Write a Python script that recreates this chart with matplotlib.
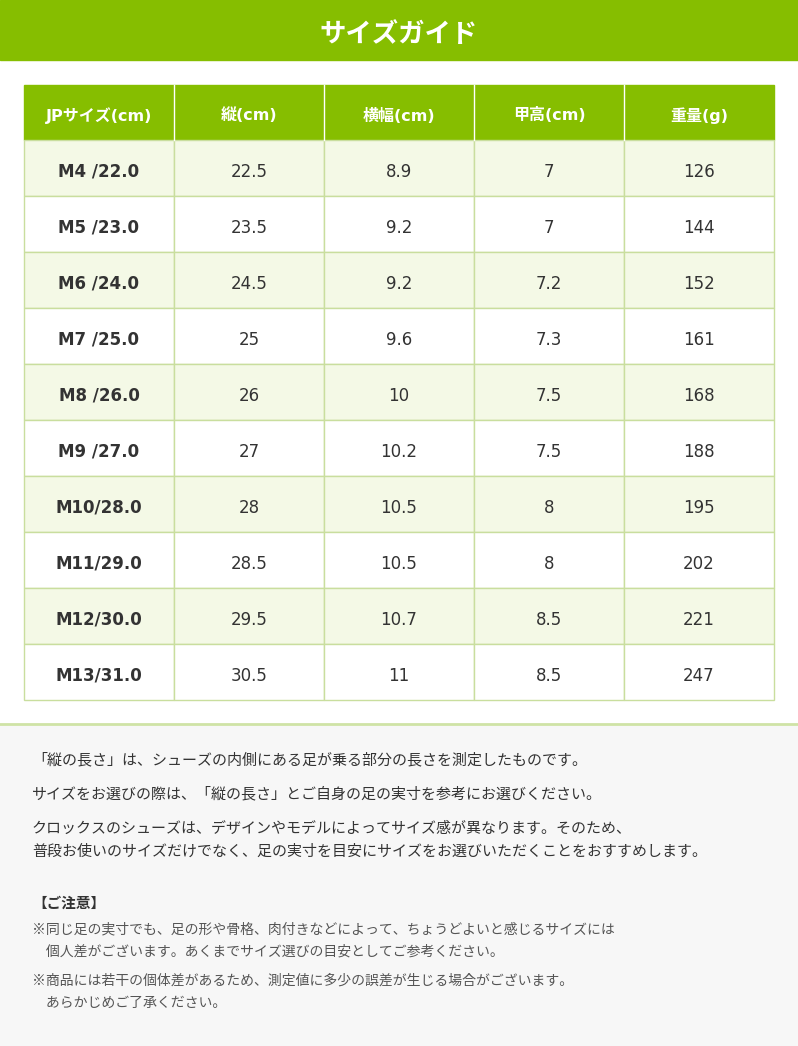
import matplotlib.pyplot as plt
from matplotlib.patches import Rectangle

plt.rcParams["font.family"] = ["Noto Sans CJK JP", "DejaVu Sans"]
table_font = ["DejaVu Sans", "Noto Sans CJK JP"]

title = "サイズガイド"
columns = ["JPサイズ(cm)", "縦(cm)", "横幅(cm)", "甲高(cm)", "重量(g)"]
sizes = ["M4 /22.0", "M5 /23.0", "M6 /24.0", "M7 /25.0", "M8 /26.0",
         "M9 /27.0", "M10/28.0", "M11/29.0", "M12/30.0", "M13/31.0"]
length = ["22.5", "23.5", "24.5", "25", "26", "27", "28", "28.5", "29.5", "30.5"]
width = ["8.9", "9.2", "9.2", "9.6", "10", "10.2", "10.5", "10.5", "10.7", "11"]
instep = ["7", "7", "7.2", "7.3", "7.5", "7.5", "8", "8", "8.5", "8.5"]
weight = ["126", "144", "152", "161", "168", "188", "195", "202", "221", "247"]

notes = [
    "「縦の長さ」は、シューズの内側にある足が乗る部分の長さを測定したものです。",
    "サイズをお選びの際は、「縦の長さ」とご自身の足の実寸を参考にお選びください。",
    "クロックスのシューズは、デザインやモデルによってサイズ感が異なります。そのため、",
    "普段お使いのサイズだけでなく、足の実寸を目安にサイズをお選びいただくことをおすすめします。",
]
caution_title = "【ご注意】"
cautions = [
    "※同じ足の実寸でも、足の形や骨格、肉付きなどによって、ちょうどよいと感じるサイズには",
    "　個人差がございます。あくまでサイズ選びの目安としてご参考ください。",
    "※商品には若干の個体差があるため、測定値に多少の誤差が生じる場合がございます。",
    "　あらかじめご了承ください。",
]

green = "#86BE00"
light = "#F4F9E6"
border = "#C9DE9E"

fig = plt.figure(figsize=(7.98, 10.46), dpi=100)
ax = fig.add_axes([0, 0, 1, 1])
ax.set_xlim(0, 798)
ax.set_ylim(1046, 0)
ax.axis("off")

# タイトル帯
ax.add_patch(Rectangle((0, 0), 798, 60, color=green))
ax.text(399, 34, title, color="white", fontsize=19, fontweight="bold",
        ha="center", va="center")

# 表
x0, cw, hy, hh, rh = 24, 150, 85, 55, 56
ax.add_patch(Rectangle((x0, hy), cw * 5, hh, color=green))
for i, c in enumerate(columns):
    ax.text(x0 + cw * i + cw / 2, hy + hh / 2 + 3, c, color="white", fontsize=11.5,
            fontweight="bold", ha="center", va="center", family=table_font)
    if i > 0:
        ax.plot([x0 + cw * i] * 2, [hy, hy + hh], color="white", lw=1)

rows = list(zip(sizes, length, width, instep, weight))
for r, row in enumerate(rows):
    y = hy + hh + r * rh
    fc = light if r % 2 == 0 else "white"
    for i, v in enumerate(row):
        ax.add_patch(Rectangle((x0 + cw * i, y), cw, rh, facecolor=fc,
                               edgecolor=border, lw=1))
        ax.text(x0 + cw * i + cw / 2, y + rh / 2 + 4, v, color="#333333",
                fontsize=12, fontweight="bold" if i == 0 else "normal",
                ha="center", va="center", family=table_font)

# 注記エリア
ax.add_patch(Rectangle((0, 724), 798, 322, color="#F7F7F7"))
ax.plot([0, 798], [724, 724], color="#CFE3A6", lw=2)
for y, t in zip([760, 794, 829, 852], notes):
    ax.text(32, y, t, color="#333333", fontsize=10.8, va="center")
ax.text(32, 903, caution_title, color="#333333", fontsize=10.5,
        fontweight="bold", va="center")
for y, t in zip([929, 952, 981, 1003], cautions):
    ax.text(32, y, t, color="#555555", fontsize=10, va="center")

fig.savefig("out.png", dpi=100)
